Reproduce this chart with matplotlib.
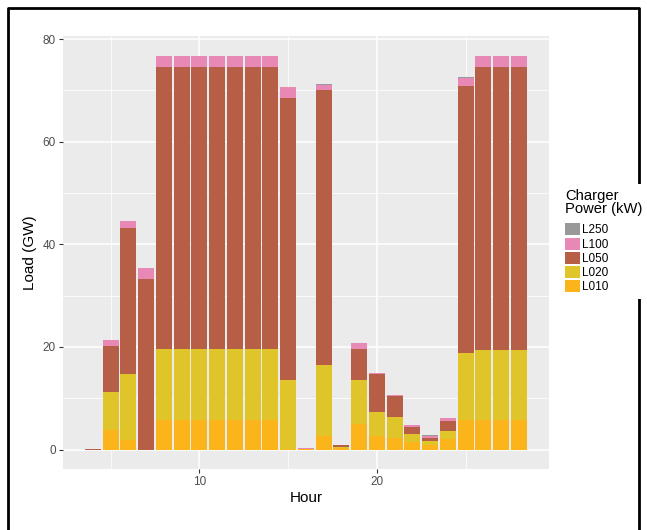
import matplotlib
matplotlib.use("Agg")
import matplotlib.pyplot as plt
from matplotlib.lines import Line2D
import numpy as np

plt.rcParams['font.family'] = ['Liberation Sans', 'DejaVu Sans']

# Часы суток (продолжение после полуночи до 28)
hours = np.arange(4, 29)

# Нагрузка по мощности зарядных станций, ГВт (по слоям)
L010 = [0.0, 3.8, 1.8, 0.0, 5.85, 5.85, 5.85, 5.85, 5.85, 5.85, 5.85, 0.1, 0.1,
        2.7, 0.3, 5.0, 2.6, 2.25, 1.55, 0.85, 2.0, 5.7, 5.85, 5.85, 5.85]
L020 = [0.0, 7.4, 12.9, 0.0, 13.7, 13.7, 13.7, 13.7, 13.7, 13.7, 13.7, 13.4, 0.0,
        13.7, 0.2, 8.5, 4.65, 4.05, 1.4, 0.85, 1.55, 13.2, 13.65, 13.65, 13.65]
L050 = [0.2, 8.9, 28.4, 33.2, 55.05, 55.05, 55.05, 55.05, 55.05, 55.05, 55.05, 55.1, 0.05,
        53.7, 0.35, 6.2, 7.4, 4.1, 1.55, 0.6, 1.95, 52.0, 55.1, 55.1, 55.1]
L100 = [0.0, 1.2, 1.4, 2.1, 2.15, 2.15, 2.15, 2.15, 2.15, 2.15, 2.15, 2.1, 0.15,
        1.0, 0.0, 1.0, 0.2, 0.15, 0.2, 0.4, 0.6, 1.6, 2.15, 2.15, 2.15]
L250 = [0.0, 0.0, 0.0, 0.0, 0.0, 0.0, 0.0, 0.0, 0.0, 0.0, 0.0, 0.0, 0.0,
        0.1, 0.0, 0.0, 0.05, 0.0, 0.0, 0.1, 0.0, 0.15, 0.0, 0.0, 0.0]

levels = ['L010', 'L020', 'L050', 'L100', 'L250']
loads = [L010, L020, L050, L100, L250]
colors = ['#FBB41A', '#DFC52A', '#B65F46', '#E889B5', '#999999']

fig = plt.figure(figsize=(6.47, 5.30), dpi=100)
ax = fig.add_axes([0.0969, 0.1145, 0.7516, 0.8175])
ax.set_facecolor('#EBEBEB')

bottom = np.zeros(len(hours))
handles = []
for name, vals, col in zip(levels, loads, colors):
    vals = np.array(vals)
    h = ax.bar(hours, vals, width=0.9, bottom=bottom, color=col,
               linewidth=0, label=name, zorder=3)
    handles.append(h)
    bottom += vals

ax.set_xlim(2.305, 29.695)
ax.set_ylim(-3.84, 80.59)
ax.set_xticks([10, 20])
ax.set_xticks([5, 15, 25], minor=True)
ax.set_yticks([0, 20, 40, 60, 80])
ax.set_yticks([10, 30, 50, 70], minor=True)
ax.grid(which='major', color='white', linewidth=1.1, zorder=0)
ax.grid(which='minor', color='white', linewidth=0.55, zorder=0)
ax.set_axisbelow(True)
for s in ax.spines.values():
    s.set_visible(False)
ax.tick_params(which='major', length=3, width=0.8, color='#333333',
               labelsize=8.5, labelcolor='#4D4D4D', pad=2)
ax.tick_params(which='minor', length=0)

ax.set_xlabel('Hour', fontsize=11, labelpad=2)
ax.set_ylabel('Load (GW)', fontsize=11, labelpad=4)

# легенда на белом фоне (перекрывает рамку справа)
leg = ax.legend(handles[::-1], levels[::-1], title='Charger\nPower (kW)',
                loc='upper left', bbox_to_anchor=(1.0208, 0.6596), frameon=True,
                fancybox=False, facecolor='white', edgecolor='white', framealpha=1,
                fontsize=8.5, title_fontsize=10.6, handlelength=1.27,
                handleheight=1.21, labelspacing=0.1, handletextpad=0.2,
                borderaxespad=0, borderpad=0.5)
leg.get_frame().set_linewidth(0)
leg._legend_box.align = 'left'
leg._legend_box.sep = 5
leg.get_title().set_linespacing(0.9)

# рамка вокруг рисунка
fig.add_artist(Line2D([7.5 / 647, 7.5 / 647, 638.5 / 647, 638.5 / 647],
                      [0, 1 - 7.5 / 530, 1 - 7.5 / 530, 0],
                      transform=fig.transFigure, color='black', linewidth=2,
                      zorder=-1))

fig.savefig('out.png', dpi=100)
